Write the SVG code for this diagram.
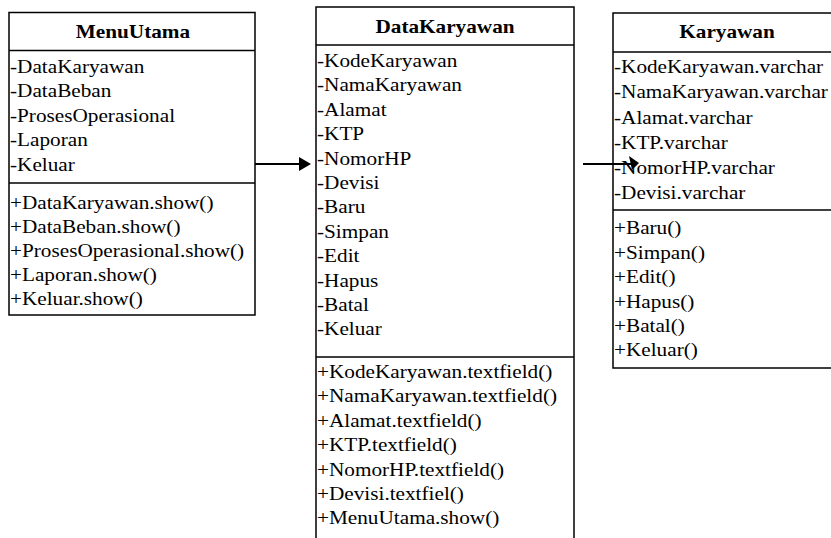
<svg xmlns="http://www.w3.org/2000/svg" width="831" height="538" viewBox="0 0 831 538">
  <style>
    .box { fill: #ffffff; stroke: #000000; stroke-width: 1.5; }
    .sep { stroke: #000000; stroke-width: 1.5; }
    .t { font-family: "Liberation Serif", "Times New Roman", serif; font-size: 18px; fill: #000000; }
    .h { font-family: "Liberation Serif", "Times New Roman", serif; font-size: 18px; font-weight: bold; fill: #000000; text-anchor: middle; }
    .conn { stroke: #000000; stroke-width: 2; fill: none; }
    .head { fill: #000000; stroke: none; }
  </style>

  <rect x="0" y="0" width="831" height="538" fill="#ffffff"/>

  <!-- MenuUtama class -->
  <g id="menu-utama">
    <rect class="box" x="9" y="12.5" width="246" height="302.5"/>
    <line class="sep" x1="9" y1="50.5" x2="255" y2="50.5"/>
    <line class="sep" x1="9" y1="183" x2="255" y2="183"/>
    <g transform="translate(10,0) scale(1.18,1)">
      <text class="h" x="104.2" y="38">MenuUtama</text>
      <text class="t" x="0" y="73">-DataKaryawan</text>
      <text class="t" x="0" y="97.5">-DataBeban</text>
      <text class="t" x="0" y="122">-ProsesOperasional</text>
      <text class="t" x="0" y="146.5">-Laporan</text>
      <text class="t" x="0" y="171">-Keluar</text>
      <text class="t" x="0" y="209.5">+DataKaryawan.show()</text>
      <text class="t" x="0" y="233.3">+DataBeban.show()</text>
      <text class="t" x="0" y="257.1">+ProsesOperasional.show()</text>
      <text class="t" x="0" y="280.9">+Laporan.show()</text>
      <text class="t" x="0" y="304.7">+Keluar.show()</text>
    </g>
  </g>

  <!-- DataKaryawan class (continues below the bottom edge) -->
  <g id="data-karyawan">
    <rect class="box" x="316" y="7" width="258" height="545"/>
    <line class="sep" x1="316" y1="45" x2="574" y2="45"/>
    <line class="sep" x1="316" y1="357" x2="574" y2="357"/>
    <g transform="translate(317,0) scale(1.18,1)">
      <text class="h" x="108.5" y="33">DataKaryawan</text>
      <text class="t" x="0" y="67">-KodeKaryawan</text>
      <text class="t" x="0" y="91.4">-NamaKaryawan</text>
      <text class="t" x="0" y="115.8">-Alamat</text>
      <text class="t" x="0" y="140.2">-KTP</text>
      <text class="t" x="0" y="164.6">-NomorHP</text>
      <text class="t" x="0" y="189">-Devisi</text>
      <text class="t" x="0" y="213.4">-Baru</text>
      <text class="t" x="0" y="237.8">-Simpan</text>
      <text class="t" x="0" y="262.2">-Edit</text>
      <text class="t" x="0" y="286.6">-Hapus</text>
      <text class="t" x="0" y="311">-Batal</text>
      <text class="t" x="0" y="335.4">-Keluar</text>
      <text class="t" x="0" y="378">+KodeKaryawan.textfield()</text>
      <text class="t" x="0" y="402.4">+NamaKaryawan.textfield()</text>
      <text class="t" x="0" y="426.8">+Alamat.textfield()</text>
      <text class="t" x="0" y="451.2">+KTP.textfield()</text>
      <text class="t" x="0" y="475.6">+NomorHP.textfield()</text>
      <text class="t" x="0" y="500">+Devisi.textfiel()</text>
      <text class="t" x="0" y="524.4">+MenuUtama.show()</text>
    </g>
  </g>

  <!-- Karyawan class (continues past the right edge) -->
  <g id="karyawan">
    <rect class="box" x="613" y="13" width="228" height="355"/>
    <line class="sep" x1="613" y1="52" x2="841" y2="52"/>
    <line class="sep" x1="613" y1="210" x2="841" y2="210"/>
    <g transform="translate(614,0) scale(1.18,1)">
      <text class="h" x="95.8" y="38">Karyawan</text>
      <text class="t" x="0" y="73">-KodeKaryawan.varchar</text>
      <text class="t" x="0" y="98.3">-NamaKaryawan.varchar</text>
      <text class="t" x="0" y="123.6">-Alamat.varchar</text>
      <text class="t" x="0" y="148.9">-KTP.varchar</text>
      <text class="t" x="0" y="174.2">-NomorHP.varchar</text>
      <text class="t" x="0" y="199.5">-Devisi.varchar</text>
      <text class="t" x="0" y="234.5">+Baru()</text>
      <text class="t" x="0" y="258.9">+Simpan()</text>
      <text class="t" x="0" y="283.3">+Edit()</text>
      <text class="t" x="0" y="307.7">+Hapus()</text>
      <text class="t" x="0" y="332.1">+Batal()</text>
      <text class="t" x="0" y="356.5">+Keluar()</text>
    </g>
  </g>

  <!-- Connectors -->
  <g id="connectors">
    <line class="conn" x1="255" y1="164" x2="301" y2="164"/>
    <polygon class="head" points="299,157 311,164 299,171"/>
    <line class="conn" x1="583" y1="164" x2="632" y2="164"/>
    <polygon class="head" points="629,156 639,163 632,170"/>
  </g>
</svg>
